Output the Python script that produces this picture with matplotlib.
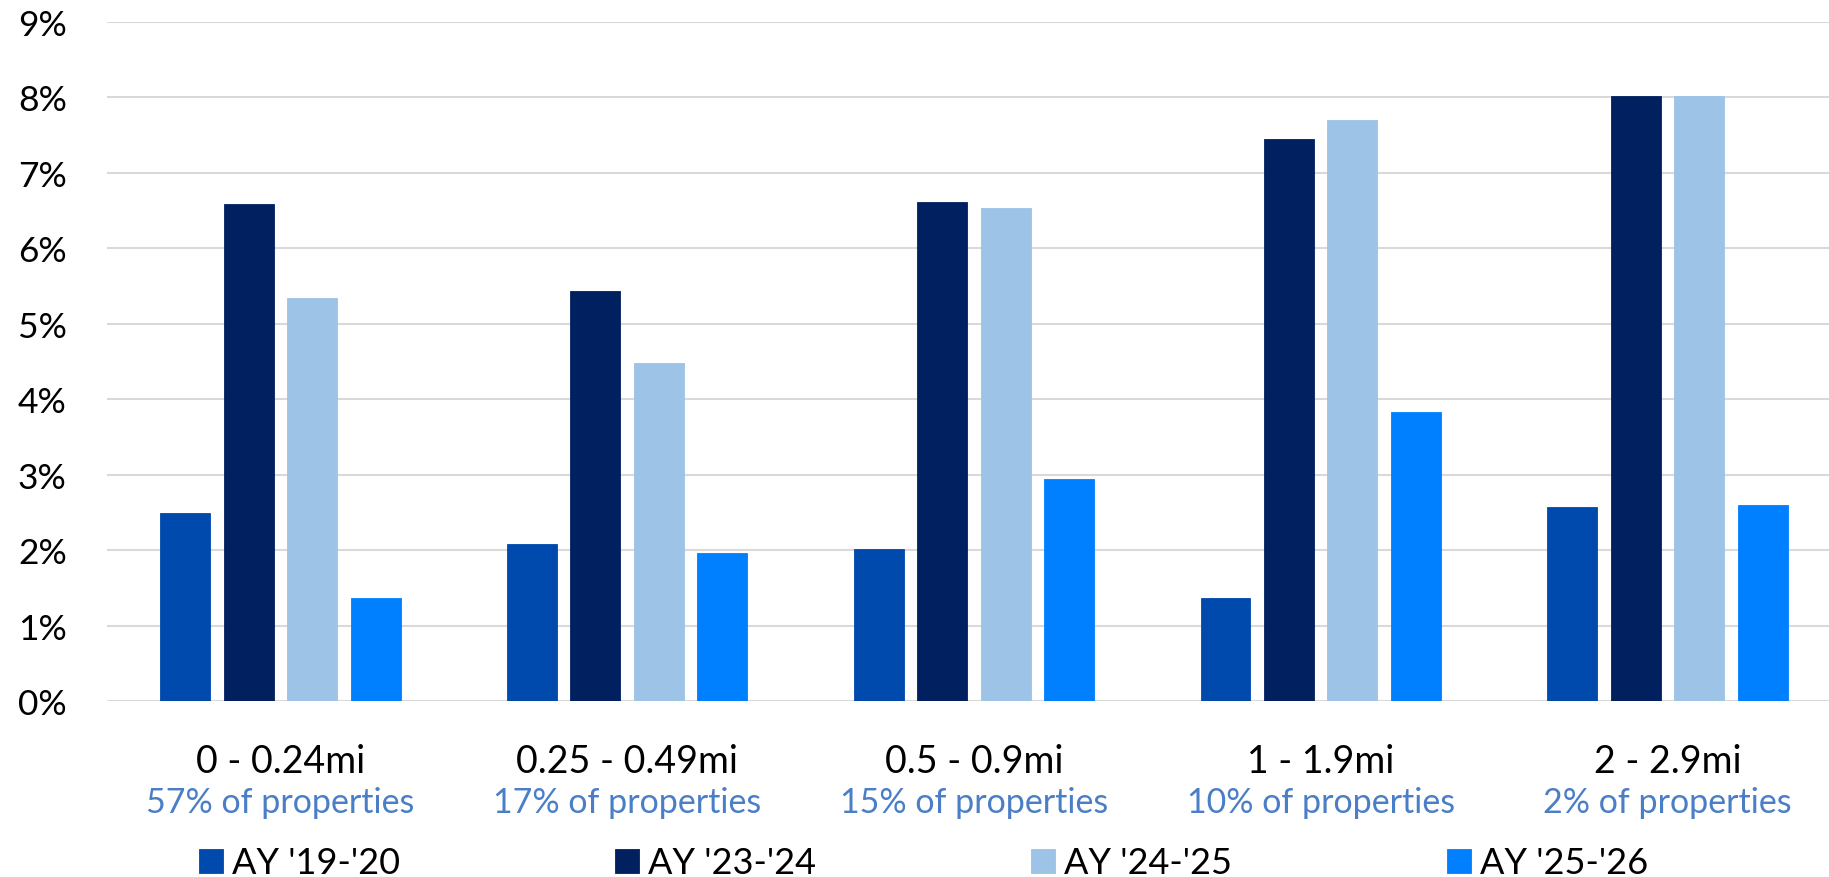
import matplotlib.pyplot as plt
import matplotlib.transforms as mtransforms
import numpy as np

# Distance bands and share of properties in each
bands = ["0 - 0.24mi", "0.25 - 0.49mi", "0.5 - 0.9mi", "1 - 1.9mi", "2 - 2.9mi"]
shares = ["57% of properties", "17% of properties", "15% of properties",
          "10% of properties", "2% of properties"]

# Rate (%) per academic year
ay_19_20 = [2.49, 2.08, 2.02, 1.37, 2.57]
ay_23_24 = [6.59, 5.43, 6.61, 7.45, 8.02]
ay_24_25 = [5.34, 4.48, 6.53, 7.70, 8.02]
ay_25_26 = [1.37, 1.97, 2.94, 3.83, 2.60]

series = [("AY '19-'20", ay_19_20, "#004AAD"),
          ("AY '23-'24", ay_23_24, "#002060"),
          ("AY '24-'25", ay_24_25, "#9DC3E6"),
          ("AY '25-'26", ay_25_26, "#0080FF")]

plt.rcParams["font.family"] = ["Lato", "DejaVu Sans"]

fig = plt.figure(figsize=(18.29, 8.78), dpi=100)
# plot area runs slightly past the right edge of the figure
ax = fig.add_axes([0.0585, 0.2, 0.948, 0.7743])

x = np.arange(len(bands))
pitch = 0.183
width = 0.144
for i, (name, vals, color) in enumerate(series):
    ax.bar(x + (i - 1.5) * pitch, vals, width=width, color=color, label=name,
           edgecolor=color, linewidth=0.6)

ax.set_xlim(-0.5, len(bands) - 0.5)
ax.set_ylim(0, 9)
ax.set_yticks(range(0, 10))
ax.set_yticklabels([f"{v}%" for v in range(0, 10)], fontsize=25.5)
ax.tick_params(axis="y", length=0, pad=29)
ax.set_xticks([])
ax.grid(axis="y", color="#D9D9D9", linewidth=1.5)
ax.set_axisbelow(True)
for s in ax.spines.values():
    s.set_visible(False)

# Two-line category labels under each group
trans = mtransforms.blended_transform_factory(ax.transData, fig.transFigure)
for xi, band, share in zip(x, bands, shares):
    ax.text(xi, 0.120, band, transform=trans, ha="center", va="baseline",
            fontsize=27, color="black")
    ax.text(xi, 0.0737, share, transform=trans, ha="center", va="baseline",
            fontsize=24.5, color="#4A7EC6")

fig.legend(loc="center", bbox_to_anchor=(0.505, 0.016), ncol=4, frameon=False,
           fontsize=26, handlelength=0.65, handleheight=0.65, handletextpad=0.25,
           columnspacing=5.97, borderaxespad=0, borderpad=0)

fig.savefig("out.png", dpi=100)
